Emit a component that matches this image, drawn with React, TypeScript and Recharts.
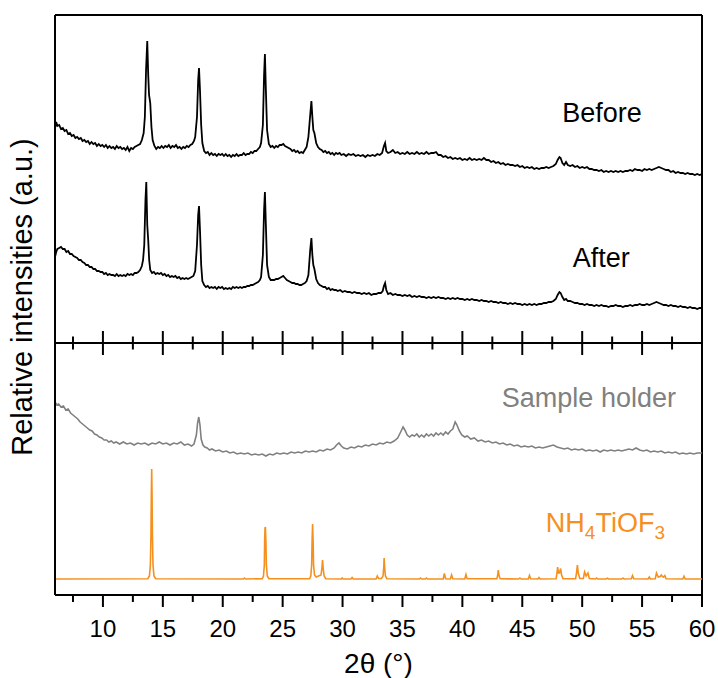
import React from 'react';
import { LineChart, Line, XAxis, YAxis, ReferenceLine, ReferenceDot } from 'recharts';

const FONT = '"Liberation Sans", Arial, Helvetica, sans-serif';

const MAJOR_TICKS = [10, 15, 20, 25, 30, 35, 40, 45, 50, 55, 60];
const MINOR_TICKS = [7.5, 12.5, 17.5, 22.5, 27.5, 32.5, 37.5, 42.5, 47.5, 52.5, 57.5];
const X_DOMAIN = [6, 60];
const Y_DOMAIN = [0, 580];
const PANEL_DIVIDER = 252;

const BEFORE: [number, number][] = [
  [6.0,467],[6.1,473],[6.2,469],[6.35,470],[6.5,466],[6.65,467],[6.8,464],[6.95,465],[7.1,461],[7.25,462],[7.4,459],[7.55,460],[7.7,457],[7.85,458],[8.0,456],[8.15,457],[8.3,454],[8.45,455],[8.6,453],[8.75,454],[8.9,451],[9.05,453],[9.2,451],[9.35,452],[9.5,449],[9.65,451],[9.8,449],[9.95,450],[10.1,448],[10.25,450],[10.4,447],[10.55,449],[10.7,447],[10.85,448],[11.0,446],[11.15,449],[11.3,447],[11.45,448],[11.6,446],[11.75,447],[11.9,445],[12.05,448],[12.2,444],[12.35,447],[12.5,446],[12.65,448],[12.8,449],[12.95,450],[13.1,451],[13.25,455],
  [13.4,462],[13.5,478],[13.6,525],[13.7,554],[13.78,520],[13.85,500],[13.95,492],[14.05,468],[14.15,455],
  [14.3,449],[14.45,446],[14.6,448],[14.75,447],[14.9,449],[15.05,447],[15.2,449],[15.35,448],[15.5,450],[15.65,447],[15.8,449],[15.95,448],[16.1,450],[16.25,447],[16.4,448],[16.55,446],[16.7,448],[16.85,447],[17.0,449],[17.15,448],[17.3,450],[17.45,451],[17.6,454],[17.7,458],
  [17.85,478],[17.95,515],[18.02,527],[18.1,505],[18.2,470],
  [18.3,452],[18.45,444],[18.6,442],[18.75,443],[18.9,440],[19.05,442],[19.2,440],[19.35,441],[19.5,439],[19.65,441],[19.8,440],[19.95,441],[20.1,439],[20.25,441],[20.4,439],[20.55,440],[20.7,438],[20.85,440],[21.0,439],[21.15,441],[21.3,439],[21.45,440],[21.6,440],[21.75,442],[21.9,440],[22.05,441],[22.2,441],[22.35,443],[22.5,442],[22.65,444],[22.8,444],[22.95,446],[23.1,448],[23.2,452],
  [23.35,470],[23.45,520],[23.52,541],[23.6,505],[23.7,465],
  [23.85,451],[24.0,448],[24.15,449],[24.3,447],[24.45,449],[24.6,448],[24.75,450],[24.9,450],[25.05,451],[25.2,449],[25.35,448],[25.5,447],[25.65,446],[25.8,444],[25.95,445],[26.1,443],[26.25,444],[26.4,442],[26.55,443],[26.7,442],[26.85,445],[27.0,448],
  [27.15,458],[27.3,480],[27.4,494],[27.48,478],[27.56,465],[27.65,462],
  [27.8,452],[27.95,448],[28.1,446],[28.25,445],[28.4,443],[28.55,444],[28.7,442],[28.85,443],[29.0,441],[29.15,442],[29.3,440],[29.45,442],[29.6,441],[29.75,442],[29.9,440],[30.1,441],[30.3,439],[30.5,441],[30.7,440],[30.9,441],[31.1,439],[31.3,440],[31.5,439],[31.7,440],[31.9,438],[32.1,440],[32.3,439],[32.5,440],[32.7,439],[32.9,441],[33.1,440],[33.3,442],
  [33.45,449],[33.55,452],[33.65,444],
  [33.8,442],[34.0,443],[34.2,445],[34.4,442],[34.6,443],[34.8,441],[35.0,442],[35.2,441],[35.4,443],[35.6,441],[35.8,442],[36.0,441],[36.2,443],[36.4,441],[36.6,442],[36.8,441],[37.0,443],[37.2,441],[37.4,442],[37.6,442],[37.8,443],[38.0,440],[38.2,440],[38.4,438],[38.6,439],[38.8,437],[39.0,438],[39.2,436],[39.4,437],[39.6,436],[39.8,437],[40.0,435],[40.2,436],[40.4,435],[40.6,437],[40.8,435],[41.0,436],[41.2,435],[41.4,436],[41.6,435],[41.8,437],[42.0,435],[42.2,435],[42.4,433],[42.6,434],[42.8,432],[43.0,433],[43.2,431],[43.4,432],[43.6,430],[43.8,431],[44.0,430],[44.2,430],[44.4,429],[44.6,430],[44.8,428],[45.0,429],[45.2,427],[45.4,428],[45.6,427],[45.8,428],[46.0,426],[46.2,427],[46.4,426],[46.6,427],[46.8,427],[47.0,428],[47.2,427],[47.4,428],[47.6,429],[47.8,431],
  [47.95,435],[48.1,438],[48.2,437],[48.35,432],
  [48.5,430],[48.65,433],[48.8,430],[49.0,429],[49.2,430],[49.4,428],[49.6,429],[49.8,427],[50.0,428],[50.2,427],[50.4,428],[50.6,426],[50.8,426],[51.0,425],[51.2,425],[51.4,424],[51.6,425],[51.8,423],[52.0,424],[52.2,423],[52.4,424],[52.6,423],[52.8,424],[53.0,423],[53.2,424],[53.4,423],[53.6,424],[53.8,424],[54.0,425],[54.2,424],[54.4,426],[54.6,425],[54.8,425],[55.0,424],[55.2,426],[55.4,425],[55.6,426],[55.8,425],[56.0,426],[56.2,427],[56.4,428],[56.6,427],[56.8,426],[57.0,425],[57.2,425],[57.4,423],[57.6,424],[57.8,422],[58.0,423],[58.2,422],[58.4,422],[58.6,421],[58.8,422],[59.0,421],[59.2,421],[59.4,420],[59.6,421],[59.8,420],[60.0,421]
];

const AFTER: [number, number][] = [
  [6.0,338],[6.1,343],[6.2,346],[6.35,347],[6.5,348],[6.65,346],[6.8,346],[6.95,343],[7.1,344],[7.25,341],[7.4,341],[7.55,339],[7.7,338],[7.85,337],[8.0,335],[8.15,335],[8.3,333],[8.45,332],[8.6,330],[8.75,330],[8.9,328],[9.05,328],[9.2,326],[9.35,326],[9.5,324],[9.65,324],[9.8,323],[9.95,323],[10.1,321],[10.25,322],[10.4,320],[10.55,321],[10.7,320],[10.85,320],[11.0,319],[11.15,321],[11.3,319],[11.45,320],[11.6,319],[11.75,320],[11.9,319],[12.05,321],[12.2,320],[12.35,321],[12.5,320],[12.65,322],[12.8,322],[12.95,323],[13.1,325],[13.25,329],[13.35,335],
  [13.45,350],[13.55,395],[13.62,413],[13.7,370],[13.78,355],[13.86,335],[13.95,325],
  [14.1,322],[14.25,323],[14.4,321],[14.55,322],[14.7,321],[14.85,322],[15.0,320],[15.15,321],[15.3,319],[15.45,320],[15.6,318],[15.75,319],[15.9,318],[16.05,319],[16.2,317],[16.35,318],[16.5,316],[16.65,317],[16.8,316],[16.95,317],[17.1,316],[17.25,317],[17.4,318],[17.55,319],[17.7,324],
  [17.85,350],[17.95,380],[18.02,389],[18.1,365],[18.2,330],
  [18.3,314],[18.45,310],[18.6,308],[18.75,309],[18.9,307],[19.05,308],[19.2,307],[19.35,308],[19.5,306],[19.65,308],[19.8,307],[19.95,308],[20.1,306],[20.25,307],[20.4,306],[20.55,307],[20.7,306],[20.85,308],[21.0,307],[21.15,308],[21.3,307],[21.45,308],[21.6,307],[21.75,308],[21.9,308],[22.05,309],[22.2,309],[22.35,310],[22.5,310],[22.65,311],[22.8,312],[22.95,313],[23.1,315],[23.2,318],
  [23.35,340],[23.45,385],[23.52,403],[23.6,370],[23.7,330],
  [23.85,318],[24.0,315],[24.15,315],[24.3,315],[24.45,316],[24.6,316],[24.75,317],[24.9,318],[25.05,319],[25.2,317],[25.35,315],[25.5,314],[25.65,313],[25.8,312],[25.95,312],[26.1,311],[26.25,311],[26.4,310],[26.55,310],[26.7,311],[26.85,312],[27.0,314],
  [27.15,320],[27.3,345],[27.4,357],[27.48,340],[27.56,330],[27.65,326],
  [27.8,316],[27.95,312],[28.1,310],[28.25,309],[28.4,308],[28.55,308],[28.7,306],[28.85,307],[29.0,305],[29.15,306],[29.3,305],[29.45,305],[29.6,304],[29.8,305],[30.0,303],[30.2,304],[30.4,303],[30.6,303],[30.8,302],[31.0,303],[31.2,302],[31.4,302],[31.6,301],[31.8,302],[32.0,301],[32.2,302],[32.4,300],[32.6,301],[32.8,301],[33.0,302],[33.2,302],[33.35,304],
  [33.45,309],[33.55,312],[33.65,305],
  [33.8,301],[34.0,302],[34.2,300],[34.4,301],[34.6,300],[34.8,300],[35.0,299],[35.2,300],[35.4,299],[35.6,300],[35.8,298],[36.0,299],[36.2,298],[36.4,299],[36.6,298],[36.8,298],[37.0,297],[37.2,298],[37.4,297],[37.6,298],[37.8,297],[38.0,298],[38.2,297],[38.4,297],[38.6,296],[38.8,297],[39.0,296],[39.2,297],[39.4,296],[39.6,297],[39.8,296],[40.0,296],[40.2,295],[40.4,296],[40.6,295],[40.8,296],[41.0,295],[41.2,295],[41.4,294],[41.6,295],[41.8,294],[42.0,294],[42.2,293],[42.4,294],[42.6,293],[42.8,293],[43.0,292],[43.2,293],[43.4,292],[43.6,292],[43.8,291],[44.0,292],[44.2,291],[44.4,292],[44.6,291],[44.8,291],[45.0,290],[45.2,291],[45.4,290],[45.6,291],[45.8,290],[46.0,291],[46.2,290],[46.4,291],[46.6,291],[46.8,292],[47.0,292],[47.2,293],[47.4,293],[47.6,294],[47.8,296],
  [47.95,300],[48.1,303],[48.2,302],[48.35,298],
  [48.5,295],[48.65,296],[48.8,294],[49.0,294],[49.2,293],[49.4,292],[49.6,292],[49.8,291],[50.0,291],[50.2,290],[50.4,291],[50.6,290],[50.8,290],[51.0,289],[51.2,290],[51.4,289],[51.6,290],[51.8,289],[52.0,289],[52.2,288],[52.4,289],[52.6,289],[52.8,290],[53.0,289],[53.2,289],[53.4,288],[53.6,289],[53.8,289],[54.0,290],[54.2,289],[54.4,290],[54.6,290],[54.8,291],[55.0,290],[55.2,290],[55.4,291],[55.6,290],[55.8,291],[56.0,292],[56.2,293],[56.4,292],[56.6,291],[56.8,290],[57.0,290],[57.2,289],[57.4,290],[57.6,289],[57.8,289],[58.0,288],[58.2,289],[58.4,288],[58.6,288],[58.8,287],[59.0,288],[59.2,287],[59.4,287],[59.6,286],[59.8,287],[60.0,287]
];

const SAMPLE_HOLDER: [number, number][] = [
  [6.0,193],[6.15,190],[6.3,191],[6.5,188],[6.7,189],[6.9,185],[7.1,186],[7.3,182],[7.5,180],[7.7,178],[7.9,176],[8.1,173],[8.3,171],[8.5,169],[8.7,167],[8.9,165],[9.1,164],[9.3,161],[9.5,160],[9.7,158],[9.9,157],[10.1,155],[10.3,155],[10.5,153],[10.7,154],[10.9,152],[11.1,153],[11.4,151],[11.7,153],[12.0,151],[12.3,152],[12.6,150],[12.9,152],[13.2,151],[13.5,152],[13.8,150],[14.1,152],[14.4,151],[14.7,153],[15.0,151],[15.3,152],[15.6,150],[15.9,152],[16.2,151],[16.5,153],[16.8,150],[17.1,151],[17.4,149],[17.6,151],[17.8,160],[17.9,172],[18.0,178],[18.1,170],[18.2,156],[18.35,150],[18.5,148],[18.7,147],[18.9,145],[19.1,146],[19.4,144],[19.7,145],[20.0,143],[20.3,144],[20.6,142],[20.9,143],[21.2,141],[21.5,142],[21.8,141],[22.1,142],[22.4,140],[22.7,141],[23.0,140],[23.3,141],[23.6,139],[23.9,141],[24.2,140],[24.5,142],[24.8,141],[25.1,142],[25.4,141],[25.7,143],[26.0,142],[26.3,143],[26.6,142],[26.9,144],[27.2,143],[27.5,144],[27.8,143],[28.1,145],[28.4,144],[28.7,146],[29.0,145],[29.3,147],[29.5,150],[29.7,152],[29.9,149],[30.1,147],[30.4,146],[30.7,148],[31.0,147],[31.3,149],[31.6,148],[31.9,150],[32.2,149],[32.5,151],[32.8,150],[33.1,152],[33.4,151],[33.7,153],[34.0,152],[34.3,154],[34.6,157],[34.85,163],[35.05,168],[35.2,165],[35.4,160],[35.6,158],[35.8,160],[36.0,159],[36.2,161],[36.4,158],[36.6,160],[36.8,158],[37.0,161],[37.2,159],[37.4,161],[37.6,159],[37.8,162],[38.0,160],[38.2,162],[38.4,160],[38.6,163],[38.8,161],[39.0,164],[39.2,166],[39.4,173],[39.55,170],[39.75,164],[39.95,160],[40.2,158],[40.4,159],[40.7,156],[41.0,157],[41.3,154],[41.6,155],[41.9,153],[42.2,154],[42.5,152],[42.8,153],[43.1,151],[43.4,152],[43.7,150],[44.0,151],[44.3,149],[44.6,150],[44.9,148],[45.2,149],[45.5,148],[45.8,149],[46.1,147],[46.4,148],[46.7,147],[47.0,148],[47.3,149],[47.6,150],[47.9,148],[48.2,147],[48.5,146],[48.8,147],[49.1,145],[49.4,146],[49.7,145],[50.0,146],[50.3,144],[50.6,145],[50.9,144],[51.2,145],[51.5,143],[51.8,145],[52.1,144],[52.4,145],[52.7,144],[53.0,145],[53.3,144],[53.6,145],[53.9,146],[54.2,145],[54.5,147],[54.8,145],[55.1,144],[55.4,145],[55.7,143],[56.0,144],[56.3,143],[56.6,144],[56.9,142],[57.2,143],[57.5,142],[57.8,143],[58.1,141],[58.4,142],[58.7,141],[59.0,142],[59.3,141],[59.6,142],[60.0,142]
];

const NH4TIOF3: [number, number][] = [
  [6.0,16],[13.75,16.3],[13.88,19],[13.96,30],[14.01,60],[14.04,100],[14.07,126],[14.1,100],[14.13,60],[14.18,30],[14.26,19],[14.4,16.3],
  [21.7,16],[21.8,17],[21.9,16],
  [23.3,16.3],[23.4,19],[23.47,30],[23.5,55],[23.53,67],[23.56,68],[23.6,55],[23.64,30],[23.72,19],[23.85,16.3],
  [27.25,16.3],[27.35,19],[27.42,30],[27.46,55],[27.5,71],[27.54,55],[27.58,30],[27.66,20],[27.8,18],[28.2,20],[28.28,27],[28.33,35],[28.38,27],[28.46,19],[28.6,16.3],
  [29.9,16],[29.97,17],[30.05,16],[30.7,16],[30.8,17.5],[30.9,16],
  [32.8,16],[32.9,19],[33.0,16.5],[33.25,16.5],[33.38,19],[33.44,28],[33.47,37],[33.51,28],[33.58,19],[33.7,16.3],
  [36.4,16],[36.5,17],[36.6,16],[36.9,16],[37.0,17],[37.1,16],
  [38.4,16],[38.5,21.5],[38.6,16.3],[39.0,16],[39.1,20],[39.2,16.3],[40.2,16],[40.3,20.5],[40.4,16.3],
  [42.88,16.2],[42.95,20],[43.0,25],[43.05,20],[43.15,16.3],
  [44.7,16],[44.8,17],[44.9,16],[45.5,16],[45.6,19.5],[45.7,16.2],[46.3,16],[46.4,17.5],[46.5,16],
  [47.82,16.3],[47.9,22],[47.95,28],[48.02,22],[48.1,22],[48.2,26.5],[48.28,20],[48.4,16.3],
  [49.45,16.3],[49.53,22],[49.6,30],[49.67,22],[49.8,16.5],[50.1,16.5],[50.2,23],[50.33,19],[50.48,22],[50.6,16.5],
  [51.1,16],[51.2,17],[51.3,16],[52.0,16],[52.1,16.8],[52.2,16],[53.3,16],[53.4,17],[53.5,16],
  [54.1,16.2],[54.2,19.5],[54.3,16.2],[55.5,16],[55.6,18],[55.7,16],
  [56.1,16.3],[56.2,22],[56.35,18],[56.5,18.5],[56.6,20],[56.7,18.5],[56.8,18],[56.9,19.5],[57.0,16.3],
  [58.4,16],[58.5,18.7],[58.6,16],[60.0,16]
];

const LABEL_BEFORE: [number, number] = [51.65, 473];
const LABEL_AFTER: [number, number] = [51.6, 328];
const LABEL_HOLDER: [number, number] = [50.56, 188];
const LABEL_NH4: [number, number] = [51.94, 63];

const toRows = (arr: [number, number][]) => arr.map(([t, v]) => ({ t, v }));

const BLACK = '#000000';
const GRAY = '#808080';
const ORANGE = '#f5901e';

const ALL_TICKS = [...MAJOR_TICKS, ...MINOR_TICKS].sort((a, b) => a - b);

const XTick = (props: any) => {
  const { x, y, payload } = props;
  const v = payload.value;
  const major = MAJOR_TICKS.includes(v);
  return (
    <g>
      <line x1={x} x2={x} y1={y} y2={y + (major ? 12 : 7)} stroke={BLACK} strokeWidth={2} />
      {major && (
        <text x={x} y={y + 42} textAnchor="middle" fontSize={24} fill={BLACK} fontFamily={FONT}>
          {v}
        </text>
      )}
    </g>
  );
};

const XTitle = (props: any) => {
  const vb = props.viewBox || {};
  return (
    <text x={vb.x + vb.width / 2} y={vb.y + 78} textAnchor="middle" fontSize={28} fill={BLACK} fontFamily={FONT}>
      2θ (°)
    </text>
  );
};

const YTitle = (props: any) => {
  const vb = props.viewBox || {};
  const cx = vb.x + 32;
  const cy = vb.y + vb.height / 2 - 8;
  return (
    <text x={cx} y={cy} transform={`rotate(-90, ${cx}, ${cy})`} textAnchor="middle" fontSize={29} fill={BLACK} fontFamily={FONT}>
      Relative intensities (a.u.)
    </text>
  );
};

const makeLabel = (text: string, color: string) => (props: any) => {
  const vb = props.viewBox || {};
  return (
    <text x={vb.x} y={vb.y} textAnchor="middle" fontSize={27} fill={color} fontFamily={FONT}>
      {text}
    </text>
  );
};

const NH4Label = (props: any) => {
  const vb = props.viewBox || {};
  return (
    <text x={vb.x} y={vb.y} textAnchor="middle" fontSize={27} fill={ORANGE} fontFamily={FONT}>
      NH<tspan dy={7} fontSize={19}>4</tspan>
      <tspan dy={-7}>TiOF</tspan>
      <tspan dy={7} fontSize={19}>3</tspan>
    </text>
  );
};

export default function App() {
  return (
    <div style={{ position: 'absolute', left: 0, top: 0, background: '#fff' }}>
      <LineChart width={718} height={678} margin={{ top: 15, right: 16, bottom: 3, left: 0 }}>
        <XAxis
          dataKey="t"
          type="number"
          domain={X_DOMAIN}
          ticks={ALL_TICKS}
          interval={0}
          allowDataOverflow
          tickSize={0}
          tickMargin={0}
          tickLine={false}
          tick={<XTick />}
          axisLine={{ stroke: BLACK, strokeWidth: 2 }}
          height={80}
          label={XTitle}
        />
        <YAxis
          type="number"
          domain={Y_DOMAIN}
          allowDataOverflow
          width={55}
          tick={false}
          tickLine={false}
          axisLine={{ stroke: BLACK, strokeWidth: 2 }}
          label={YTitle}
        />
        <ReferenceLine y={Y_DOMAIN[1]} stroke={BLACK} strokeWidth={2} />
        <ReferenceLine x={X_DOMAIN[1]} stroke={BLACK} strokeWidth={2} />
        <ReferenceLine y={PANEL_DIVIDER} stroke={BLACK} strokeWidth={2} />
        {MAJOR_TICKS.filter((t) => t < X_DOMAIN[1]).map((t) => (
          <ReferenceLine
            key={`maj${t}`}
            segment={[{ x: t, y: PANEL_DIVIDER - 12 }, { x: t, y: PANEL_DIVIDER + 12 }]}
            stroke={BLACK}
            strokeWidth={2}
          />
        ))}
        {MINOR_TICKS.map((t) => (
          <ReferenceLine
            key={`min${t}`}
            segment={[{ x: t, y: PANEL_DIVIDER - 6.5 }, { x: t, y: PANEL_DIVIDER + 6.5 }]}
            stroke={BLACK}
            strokeWidth={2}
          />
        ))}
        <Line data={toRows(BEFORE)} dataKey="v" type="linear" dot={false} stroke={BLACK} strokeWidth={1.8} isAnimationActive={false} />
        <Line data={toRows(AFTER)} dataKey="v" type="linear" dot={false} stroke={BLACK} strokeWidth={1.8} isAnimationActive={false} />
        <Line data={toRows(SAMPLE_HOLDER)} dataKey="v" type="linear" dot={false} stroke={GRAY} strokeWidth={1.6} isAnimationActive={false} />
        <Line data={toRows(NH4TIOF3)} dataKey="v" type="linear" dot={false} stroke={ORANGE} strokeWidth={1.6} isAnimationActive={false} />
        <ReferenceDot x={LABEL_BEFORE[0]} y={LABEL_BEFORE[1]} r={0} fill="none" stroke="none" label={makeLabel('Before', BLACK)} />
        <ReferenceDot x={LABEL_AFTER[0]} y={LABEL_AFTER[1]} r={0} fill="none" stroke="none" label={makeLabel('After', BLACK)} />
        <ReferenceDot x={LABEL_HOLDER[0]} y={LABEL_HOLDER[1]} r={0} fill="none" stroke="none" label={makeLabel('Sample holder', GRAY)} />
        <ReferenceDot x={LABEL_NH4[0]} y={LABEL_NH4[1]} r={0} fill="none" stroke="none" label={NH4Label} />
      </LineChart>
    </div>
  );
}
